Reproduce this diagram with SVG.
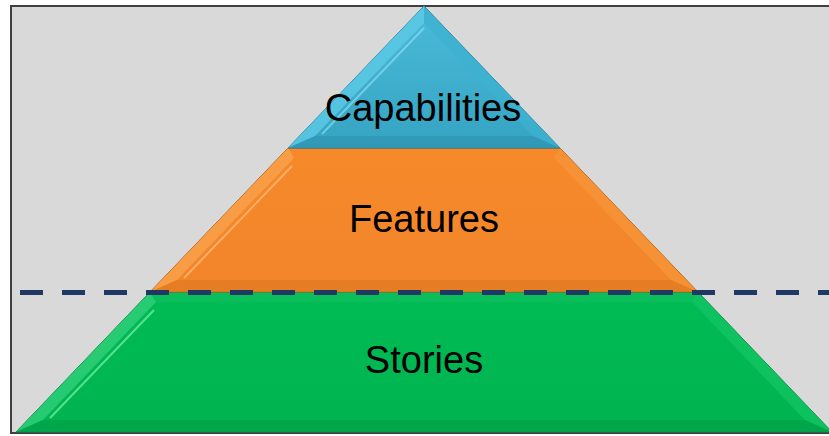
<svg xmlns="http://www.w3.org/2000/svg" width="829" height="436" viewBox="0 0 829 436">
<style>
.lbl{font-family:"Liberation Sans",Arial,sans-serif;font-size:38px;fill:#000;text-anchor:middle}
.edge{stroke-width:1;stroke-linejoin:round}
</style>
<defs>
<linearGradient id="gB" x1="0" y1="0" x2="0" y2="1"><stop offset="0" stop-color="#4cbbd9"/><stop offset="1" stop-color="#35a3c2"/></linearGradient>
<linearGradient id="gO" x1="0" y1="0" x2="0" y2="1"><stop offset="0" stop-color="#f68a2a"/><stop offset="1" stop-color="#f2842a"/></linearGradient>
<linearGradient id="gG" x1="0" y1="0" x2="0" y2="1"><stop offset="0" stop-color="#00bb55"/><stop offset="1" stop-color="#00b44e"/></linearGradient>
</defs>
<rect x="11" y="6" width="830" height="427" fill="#d9d9d9" stroke="#404040" stroke-width="2"/>
<g id="stories">
<polygon points="150,292 698,292 832,432 16,432" fill="url(#gG)" stroke="#1d7a44" class="edge"/>
<polygon points="150,292 156,302 43,420 16,432" fill="#2fd07a" opacity="0.8"/>
<polygon points="698,292 832,432 805,420 692,302" fill="#10c463" opacity="0.8"/>
<polygon points="16,432 832,432 805,420 43,420" fill="#00a048" opacity="0.7"/>
<polygon points="150,292 698,292 692,302 156,302" fill="#10c060" opacity="0.6"/>
<line x1="154" y1="310" x2="50" y2="418" stroke="#7ff0b0" stroke-width="2" opacity="0.7"/>
<text class="lbl" x="424" y="373">Stories</text>
</g>
<g id="features">
<polygon points="288,148 560,148 698,292 150,292" fill="url(#gO)" stroke="#a05a1a" class="edge"/>
<polygon points="288,148 294,158 177,280 150,292" fill="#f9a24e" opacity="0.8"/>
<polygon points="560,148 698,292 671,280 554,158" fill="#f69338" opacity="0.8"/>
<polygon points="150,292 698,292 671,280 177,280" fill="#e07a22" opacity="0.7"/>
<line x1="292" y1="166" x2="184" y2="278" stroke="#ffc080" stroke-width="2" opacity="0.7"/>
<text class="lbl" x="424" y="232">Features</text>
</g>
<g id="capabilities">
<polygon points="424,6 560,148 288,148" fill="url(#gB)" stroke="#2a7d96" class="edge"/>
<polygon points="424,6 424,23 315,136 288,148" fill="#5ccbe6" opacity="0.8"/>
<polygon points="424,6 560,148 533,136 424,23" fill="#3db2d0" opacity="0.8"/>
<polygon points="288,148 560,148 533,136 315,136" fill="#2d96b4" opacity="0.7"/>
<line x1="424" y1="28" x2="322" y2="134" stroke="#8fe6f8" stroke-width="2" opacity="0.6"/>
<text class="lbl" x="423" y="121">Capabilities</text>
</g>
<g id="connectors">
<line x1="20" y1="292.5" x2="829" y2="292.5" stroke="#1f3864" stroke-width="5" stroke-dasharray="23 19"/>
</g>
</svg>
